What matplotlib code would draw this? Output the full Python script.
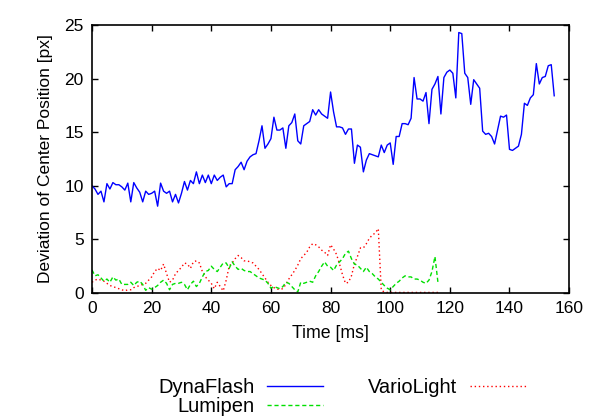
import numpy as np
import matplotlib
matplotlib.use("Agg")
import matplotlib.pyplot as plt

plt.rcParams['font.family'] = ['Liberation Sans', 'DejaVu Sans']

# Deviation of center position [px], one sample per ms
dynaflash = [
    10.0, 9.7, 9.2, 9.5, 8.5, 10.2, 9.7, 10.3, 10.1, 10.1,
    9.9, 9.6, 10.25, 8.5, 10.3, 9.8, 9.4, 8.5, 9.5, 9.2,
    9.3, 9.5, 8.1, 10.25, 9.5, 9.3, 9.5, 8.5, 9.2, 8.4,
    9.3, 10.4, 9.6, 10.5, 10.2, 11.3, 10.2, 11.0, 10.3, 11.0,
    10.2, 11.0, 10.5, 10.8, 11.0, 9.9, 10.2, 10.2, 11.5, 11.8,
    12.2, 11.5, 12.3, 12.7, 12.9, 13.0, 14.2, 15.6, 13.5, 13.9,
    14.4, 16.4, 15.2, 15.2, 15.4, 13.5, 15.6, 15.9, 16.7, 14.2,
    13.9, 15.6, 15.8, 16.0, 17.1, 16.6, 17.1, 16.7, 16.5, 16.3,
    18.75, 16.9, 15.5, 15.5, 15.4, 14.8, 15.3, 15.3, 12.1, 13.8,
    13.6, 11.3, 12.4, 13.0, 12.9, 12.8, 12.7, 13.8, 13.1, 13.8,
    14.0, 12.0, 14.6, 14.6, 15.8, 15.8, 15.7, 16.3, 20.1, 18.1,
    18.1, 17.9, 18.7, 15.8, 19.0, 19.5, 20.2, 16.7, 20.1, 20.6,
    20.8, 20.5, 18.2, 24.3, 24.2, 20.5, 20.1, 17.6, 19.9, 19.5,
    19.1, 15.1, 14.8, 14.9, 14.6, 13.9, 15.2, 16.5, 16.4, 16.6,
    13.4, 13.3, 13.5, 13.7, 14.8, 17.7, 17.5, 18.2, 18.5, 21.4,
    19.5, 20.1, 20.2, 21.2, 21.3, 18.4,
]

variolight = [
    1.0, 1.2, 1.3, 1.2, 1.1, 0.9, 0.7, 0.6, 0.5, 0.4,
    0.3, 0.2, 0.3, 0.3, 0.5, 0.6, 0.7, 0.8, 0.9, 1.2,
    1.5, 2.0, 2.3, 2.1, 2.7, 1.8, 1.0, 1.2, 1.8, 2.1,
    2.4, 2.8, 2.7, 2.3, 2.9, 3.0, 2.8, 2.0, 1.5, 1.2,
    0.9, 0.4, 1.0, 0.6, 0.2, 1.2, 2.5, 2.8, 3.2, 3.5,
    3.3, 3.0, 3.0, 2.9, 2.8, 2.5, 2.2, 1.8, 1.4, 1.0,
    0.7, 0.5, 0.35, 0.35, 0.4, 0.8, 1.3, 1.7, 2.1, 2.6,
    3.2, 3.5, 3.8, 4.3, 4.6, 4.5, 4.3, 4.0, 3.8, 3.5,
    4.5, 4.1, 3.6, 2.7, 1.7, 0.9, 1.0, 1.6, 2.7, 3.4,
    4.2, 4.2, 4.6, 5.1, 5.4, 5.6, 6.0, 0.25, 0.1, 0.05,
    0.05, 0.05, 0.05, 0.05, 0.05, 0.05, 0.05, 0.05, 0.05, 0.05,
    0.05, 0.05, 0.05, 0.05, 0.05, 0.05, 0.05,
]

lumipen = [
    2.15, 1.6, 1.7, 1.4, 1.1, 1.3, 1.0, 1.5, 1.2, 1.3,
    0.8, 0.8, 0.8, 1.0, 0.7, 1.0, 1.1, 0.8, 0.25, 0.5,
    0.35, 0.5, 0.7, 1.0, 1.2, 0.9, 0.3, 0.8, 0.9, 0.9,
    1.0, 0.8, 0.3, 0.8, 1.1, 0.6, 0.9, 1.5, 2.0, 2.1,
    2.5, 2.2, 2.0, 2.4, 2.8, 2.8, 2.3, 2.9, 2.5, 2.2,
    2.3, 2.1, 2.0, 2.0, 1.8, 1.6, 1.4, 1.3, 1.2, 0.9,
    0.45, 0.6, 0.5, 0.4, 0.6, 1.0, 0.9, 0.6, 0.3, 0.1,
    1.0, 0.9, 1.0, 1.1, 1.0, 1.6, 2.0, 2.5, 2.9, 2.5,
    2.4, 2.1, 2.6, 2.9, 3.2, 3.7, 3.9, 3.2, 2.7, 2.6,
    2.3, 2.0, 2.4, 2.0, 1.8, 1.5, 1.3, 1.0, 0.7, 0.45,
    0.3, 0.6, 0.9, 1.1, 1.4, 1.6, 1.5, 1.5, 1.3, 1.3,
    1.2, 1.0, 0.9, 1.2, 2.0, 3.4, 1.0,
]

xticks = [0, 20, 40, 60, 80, 100, 120, 140, 160]
yticks = [0, 5, 10, 15, 20, 25]

fig = plt.figure(figsize=(5.91, 4.17), dpi=100)
ax = fig.add_axes([0.1557, 0.2974, 0.8073, 0.6426])

l1, = ax.plot(np.arange(len(dynaflash)), dynaflash, color='#0000ff', lw=1.0, label='DynaFlash')
l2, = ax.plot(np.arange(len(variolight)), variolight, color='#ff0000', lw=1.0,
              linestyle=(0, (1, 2)), label='VarioLight')
l3, = ax.plot(np.arange(len(lumipen)), lumipen, color='#00e000', lw=1.0,
              linestyle=(0, (3, 2)), label='Lumipen')

ax.set_xlim(0, 160)
ax.set_ylim(0, 25)
ax.set_xticks(xticks)
ax.set_yticks(yticks)
ax.tick_params(direction='in', top=True, right=True, length=4, width=1,
               labelsize=12.5, pad=6)
for s in ax.spines.values():
    s.set_linewidth(1.2)

ax.set_xlabel('Time [ms]', fontsize=12.8, labelpad=6)
ax.set_ylabel('Deviation of Center Position [px]', fontsize=12.5, labelpad=8)

fig.legend(handles=[l1, l3, l2], ncol=2, loc='upper center',
           bbox_to_anchor=(0.579, 0.118), frameon=False, markerfirst=False,
           fontsize=14.5, handlelength=2.8, handletextpad=0.6,
           columnspacing=2.25, labelspacing=0.0, borderpad=0)

fig.savefig('out.png', dpi=100)
